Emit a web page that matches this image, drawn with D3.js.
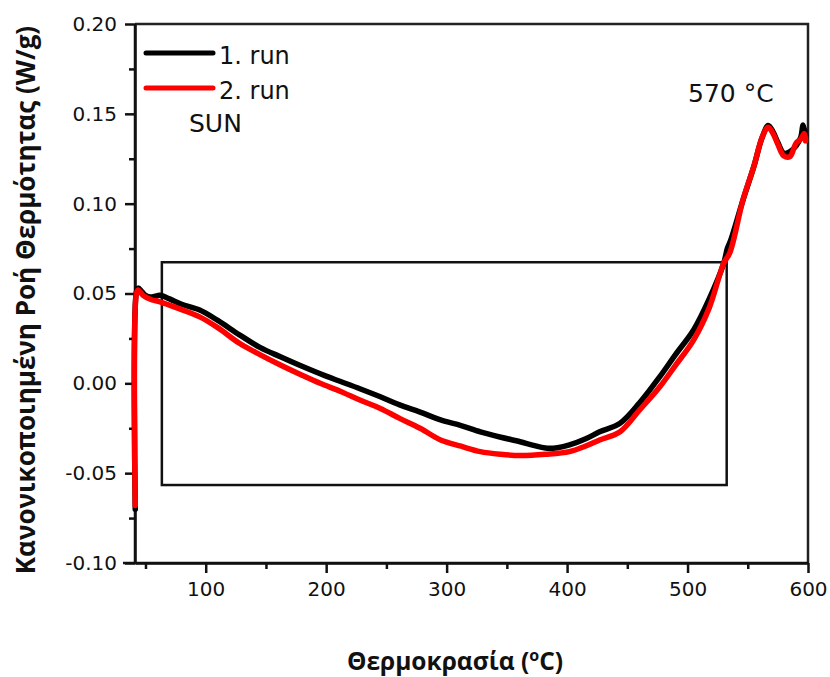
<!DOCTYPE html>
<html>
<head>
<meta charset="utf-8">
<script src="https://cdn.jsdelivr.net/npm/d3@7"></script>
<style>
  html, body { margin: 0; padding: 0; background: #fff; }
  svg { display: block; }
</style>
</head>
<body>
<svg id="chart" width="830" height="677"></svg>
<script>
// ---- data ----
const seriesNames = ["1. run", "2. run"];
const seriesColors = ["#000000", "#ff0000"];

const run1Temp = [41.5, 42.5, 44, 47, 50, 54, 58, 62, 70, 80, 95, 110, 128, 145, 162, 180, 200, 212, 228, 245, 261, 278, 295, 312, 328, 345, 361, 372, 382, 392, 402, 415, 427, 444, 460, 477, 490, 505, 518, 530, 533, 536, 546, 555, 562, 567, 571, 575, 580, 585, 590, 594, 596, 598];
const run1Flow = [-0.070, 0.051, 0.053, 0.051, 0.049, 0.048, 0.0485, 0.049, 0.047, 0.044, 0.0408, 0.035, 0.027, 0.020, 0.0148, 0.0095, 0.004, 0.001, -0.003, -0.0075, -0.012, -0.016, -0.0204, -0.0235, -0.027, -0.030, -0.0325, -0.0345, -0.036, -0.0358, -0.0343, -0.031, -0.027, -0.0222, -0.011, 0.0037, 0.016, 0.0297, 0.047, 0.0668, 0.075, 0.080, 0.102, 0.1206, 0.137, 0.1435, 0.140, 0.134, 0.128, 0.129, 0.132, 0.137, 0.1438, 0.138];

const run2Temp = [41.5, 42.5, 44, 48, 55, 62, 80, 95, 110, 128, 145, 162, 180, 195, 212, 228, 245, 261, 278, 295, 312, 328, 345, 361, 382, 402, 415, 427, 444, 460, 477, 490, 505, 518, 530, 535, 546, 555, 562, 567, 571, 575, 580, 585, 590, 594, 597, 598];
const run2Flow = [-0.068, 0.050, 0.052, 0.049, 0.0465, 0.0454, 0.041, 0.037, 0.031, 0.0223, 0.016, 0.0102, 0.0045, 0.000, -0.0045, -0.0093, -0.014, -0.0195, -0.025, -0.0315, -0.035, -0.038, -0.0395, -0.0402, -0.0395, -0.038, -0.035, -0.0315, -0.0269, -0.015, -0.0019, 0.010, 0.0241, 0.042, 0.0668, 0.0725, 0.102, 0.1206, 0.137, 0.1425, 0.139, 0.133, 0.1265, 0.1262, 0.1336, 0.136, 0.139, 0.135];

const xTicks = [100, 200, 300, 400, 500, 600];
const xMinorTicks = [50, 150, 250, 350, 450, 550];
const yTicks = [-0.10, -0.05, 0.00, 0.05, 0.10, 0.15, 0.20];
const yMinorTicks = [-0.075, -0.025, 0.025, 0.075, 0.125, 0.175];

const boxTemp = [63.6, 532.5];
const boxFlow = [-0.0566, 0.0674];

const xTitle = "Θερμοκρασία (";
const xTitleSup = "o";
const xTitleEnd = "C)";
const yTitle = "Κανονικοποιημένη Ροή Θερμότητας (W/g)";
const sampleLabel = "SUN";
const peakLabel = "570 °C";

// ---- layout ----
const W = 830, H = 677;
const margin = { left: 135, top: 24, right: 22, bottom: 114 };
const svg = d3.select("#chart");

const x = d3.scaleLinear().domain([41.3, 600]).range([margin.left, W - margin.right]);
const y = d3.scaleLinear().domain([-0.10, 0.20]).range([H - margin.bottom, margin.top]);

const font = "DejaVu Sans, sans-serif";
const locale = d3.formatLocale({ decimal: ".", thousands: ",", grouping: [3], currency: ["", ""], minus: "-" });

// frame (top & right)
svg.append("path")
  .attr("d", `M${x.range()[0]},${y(0.20)} H${x(600)} V${y(-0.10)}`)
  .attr("fill", "none").attr("stroke", "#222").attr("stroke-width", 2.5);

// rectangle
svg.append("rect")
  .attr("x", x(boxTemp[0])).attr("y", y(boxFlow[1]))
  .attr("width", x(boxTemp[1]) - x(boxTemp[0]))
  .attr("height", y(boxFlow[0]) - y(boxFlow[1]))
  .attr("fill", "none").attr("stroke", "#111").attr("stroke-width", 2.5);

// axes
const xAxis = svg.append("g").attr("transform", `translate(0,${y(-0.10)})`)
  .call(d3.axisBottom(x).tickValues(xTicks).tickSize(10).tickPadding(9).tickSizeOuter(0).tickFormat(d3.format("d")));
const xMinor = svg.append("g").attr("transform", `translate(0,${y(-0.10)})`)
  .call(d3.axisBottom(x).tickValues(xMinorTicks).tickSize(6).tickSizeOuter(0).tickFormat(""));
const yAxis = svg.append("g").attr("transform", `translate(${x.range()[0]},0)`)
  .call(d3.axisLeft(y).tickValues(yTicks).tickSize(10).tickPadding(8).tickSizeOuter(0).tickFormat(locale.format(".2f")));
const yMinor = svg.append("g").attr("transform", `translate(${x.range()[0]},0)`)
  .call(d3.axisLeft(y).tickValues(yMinorTicks).tickSize(6).tickSizeOuter(0).tickFormat(""));

[xAxis, xMinor, yAxis, yMinor].forEach(g => {
  g.selectAll("path.domain").attr("stroke", "#111").attr("stroke-width", 2.5);
  g.selectAll(".tick line").attr("stroke", "#111").attr("stroke-width", 2.5);
  g.selectAll(".tick text").attr("font-family", font).attr("font-size", 20).attr("fill", "#111");
});
xAxis.select("path.domain").attr("d", `M${x.range()[0] - 12},0H${x.range()[1]}`);
yAxis.select("path.domain").attr("d", `M0,${y.range()[0]}V${y.range()[1]}`);

// curves (drawn over the axes, as in the reference)
const run1 = run1Temp.map((t, i) => [t, run1Flow[i]]);
const run2 = run2Temp.map((t, i) => [t, run2Flow[i]]);
const lineGen = d3.line().x(d => x(d[0])).y(d => y(d[1])).curve(d3.curveCatmullRom.alpha(0.5));
[run1, run2].forEach((data, i) => {
  svg.append("path")
    .datum(data)
    .attr("d", lineGen)
    .attr("fill", "none")
    .attr("stroke", seriesColors[i])
    .attr("stroke-width", 5.5)
    .attr("stroke-linejoin", "round")
    .attr("stroke-linecap", "round");
});

// legend
const legX0 = 146, legX1 = 213;
[53, 88].forEach((ly, i) => {
  svg.append("line").attr("x1", legX0).attr("x2", legX1).attr("y1", ly).attr("y2", ly)
    .attr("stroke", seriesColors[i]).attr("stroke-width", 5).attr("stroke-linecap", "round");
  svg.append("text").attr("x", 219).attr("y", ly + 11)
    .attr("font-family", font).attr("font-size", 24).attr("fill", "#111")
    .text(seriesNames[i]);
});
svg.append("text").attr("x", 189).attr("y", 132)
  .attr("font-family", font).attr("font-size", 25).attr("fill", "#111").text(sampleLabel);
svg.append("text").attr("x", 688).attr("y", 102)
  .attr("font-family", font).attr("font-size", 25).attr("fill", "#111").text(peakLabel);

// axis titles
const xt = svg.append("text").attr("x", 455).attr("y", 670)
  .attr("text-anchor", "middle")
  .attr("font-family", "Open Sans, sans-serif").attr("font-weight", 700).attr("font-size", 24.5).attr("fill", "#111");
xt.append("tspan").text(xTitle);
xt.append("tspan").attr("font-size", 16).attr("dy", -9).text(xTitleSup);
xt.append("tspan").attr("dy", 9).text(xTitleEnd);

svg.append("text")
  .attr("transform", `translate(35,300) rotate(-90)`)
  .attr("text-anchor", "middle")
  .attr("font-family", "Open Sans, sans-serif").attr("font-weight", 700).attr("font-size", 26).attr("fill", "#111")
  .text(yTitle);
</script>
</body>
</html>
